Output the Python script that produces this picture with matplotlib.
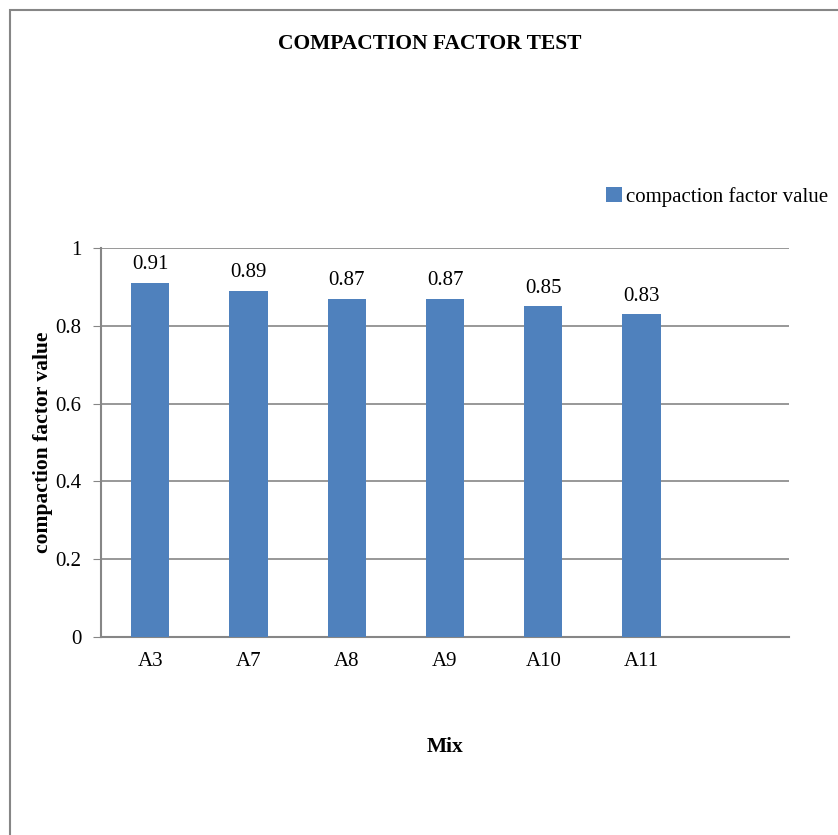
import matplotlib.pyplot as plt
from matplotlib.patches import Rectangle

mixes = ["A3", "A7", "A8", "A9", "A10", "A11"]
cf_values = [0.91, 0.89, 0.87, 0.87, 0.85, 0.83]
y_ticks = [0, 0.2, 0.4, 0.6, 0.8, 1]
y_tick_labels = ["0", "0.2", "0.4", "0.6", "0.8", "1"]

plt.rcParams['font.family'] = ['Liberation Serif', 'DejaVu Serif']
fs = 15

fig = plt.figure(figsize=(8.38, 8.35), dpi=100)
W, H = 838, 835

# outer chart border (cut off at the right and bottom)
fig.patches.append(Rectangle((10 / W, -0.1), 1.2, 1 - 10 / H + 0.1,
                             transform=fig.transFigure, fill=False,
                             edgecolor='#868686', linewidth=1.5))

ax = fig.add_axes([101 / W, 1 - 637 / H, 688 / W, 389 / H])
x = list(range(len(mixes)))
bars = ax.bar(x, cf_values, width=0.39, color='#4F81BD', zorder=3,
              label='compaction factor value')
for xi, v in zip(x, cf_values):
    ax.text(xi, v + 0.022, f"{v:.2f}", ha='center', va='bottom', fontsize=fs)

ax.set_xlim(-0.5, 6.5)
ax.set_ylim(0, 1)
ax.set_yticks(y_ticks)
ax.set_yticklabels(y_tick_labels, fontsize=fs)
ax.set_xticks(x)
ax.set_xticklabels(mixes, fontsize=fs)
ax.tick_params(axis='x', length=0, pad=11)
ax.tick_params(axis='y', length=6, color='#868686', pad=8)
ax.grid(axis='y', color='#868686', linewidth=1.2, zorder=0)
for s in ['top', 'right']:
    ax.spines[s].set_visible(False)
for s in ['left', 'bottom']:
    ax.spines[s].set_color('#868686')
    ax.spines[s].set_linewidth(1.5)

ax.set_xlabel("Mix", fontsize=15.5, fontweight='bold', labelpad=47)
ax.set_ylabel("compaction factor value", fontsize=15.5, fontweight='bold', labelpad=2)

fig.text(430 / W, 1 - 44 / H, "COMPACTION FACTOR TEST", ha='center', va='center',
         fontsize=15.5, fontweight='bold')

ax.legend(loc='center left', bbox_to_anchor=(600 / W, 1 - 197 / H),
          bbox_transform=fig.transFigure, frameon=False, fontsize=fs,
          handlelength=0.75, handleheight=0.75, handletextpad=0.2,
          borderaxespad=0, borderpad=0.3)

fig.savefig("out.png", dpi=100)
